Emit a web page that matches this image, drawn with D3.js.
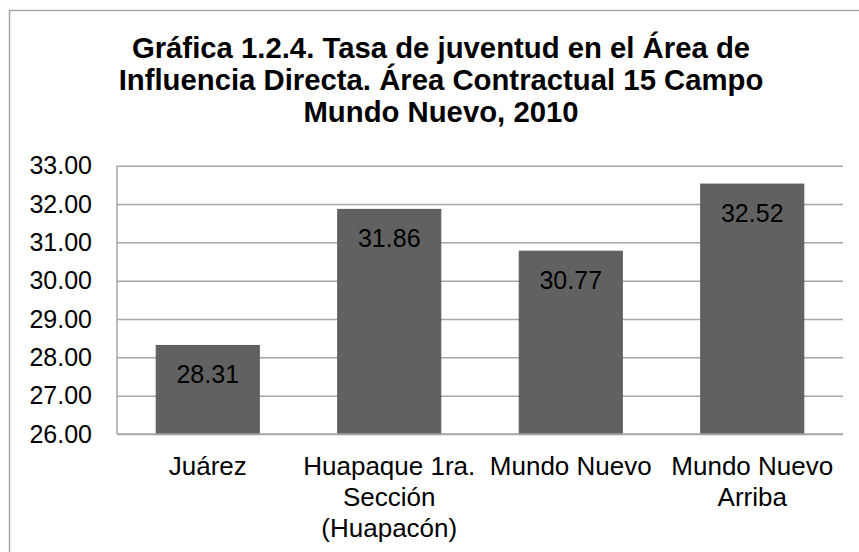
<!DOCTYPE html>
<html><head><meta charset="utf-8">
<script src="https://cdn.jsdelivr.net/npm/d3@7"></script>
<style>body{margin:0;background:#fff}svg{display:block}text{font-family:"Liberation Sans",Arial,sans-serif}</style>
</head><body><svg id="c" width="859" height="552"></svg>
<script>
const titleLines = ["Gráfica 1.2.4. Tasa de juventud en el Área de","Influencia Directa. Área Contractual 15 Campo","Mundo Nuevo, 2010"];
const categories = [["Juárez"],["Huapaque 1ra.","Sección","(Huapacón)"],["Mundo Nuevo"],["Mundo Nuevo","Arriba"]];
const values = [28.31, 31.86, 30.77, 32.52];
const yTicks = [26,27,28,29,30,31,32,33];

const svg = d3.select("#c");
const m = {left:117, right:843, top:165.7, bottom:434};
svg.append("rect").attr("x",9.5).attr("y",10.5).attr("width",900).attr("height",600).attr("fill","#fff").attr("stroke","#a6a6a6").attr("stroke-width",1.5);

const x = d3.scaleBand().domain(d3.range(values.length)).range([m.left,m.right]).paddingInner(0.432).paddingOuter(0.216);
const y = d3.scaleLinear().domain([26,33]).range([m.bottom,m.top]);

const grid = svg.append("g").attr("transform",`translate(${m.left},0)`)
  .call(d3.axisLeft(y).tickValues(yTicks).tickSize(-(m.right-m.left)).tickFormat(""));
grid.selectAll("line").attr("stroke","#a6a6a6").attr("stroke-width",1.5);
grid.select(".domain").remove();

svg.append("g").selectAll("rect").data(values).join("rect")
  .attr("x",(d,i)=>x(i)).attr("width",x.bandwidth())
  .attr("y",d=>y(d)).attr("height",d=>y(26)-y(d))
  .attr("fill","#616161").attr("stroke","#5a5a5a").attr("stroke-width",1);

svg.append("line").attr("x1",m.left).attr("x2",m.left).attr("y1",m.top).attr("y2",m.bottom).attr("stroke","#a6a6a6").attr("stroke-width",1.5);
svg.append("line").attr("x1",m.left).attr("x2",m.right).attr("y1",m.bottom).attr("y2",m.bottom).attr("stroke","#a6a6a6").attr("stroke-width",1.5);

const ax = svg.append("g").attr("transform",`translate(${m.left},0)`)
  .call(d3.axisLeft(y).tickValues(yTicks).tickSize(0).tickPadding(25).tickFormat(d3.format(".2f")));
ax.select(".domain").remove();
ax.selectAll("text").attr("font-size",25).attr("fill","#000").attr("dy","0.33em").attr("font-family","Liberation Sans, Arial, sans-serif");

svg.append("g").selectAll("text").data(values).join("text")
  .attr("x",(d,i)=>x(i)+x.bandwidth()/2).attr("y",d=>y(d)+37.5)
  .attr("text-anchor","middle").attr("font-size",25).attr("fill","#000")
  .text(d=>d.toFixed(2));

const cg = svg.append("g");
categories.forEach((lines,i)=>{
  const t = cg.append("text").attr("text-anchor","middle").attr("font-size",26).attr("fill","#000");
  lines.forEach((l,j)=>t.append("tspan").attr("x",x(i)+x.bandwidth()/2).attr("y",475+j*31).text(l));
});

const tt = svg.append("text").attr("text-anchor","middle").attr("font-size",29.3).attr("font-weight","bold").attr("fill","#000");
titleLines.forEach((l,j)=>tt.append("tspan").attr("x",441).attr("y",58.3+j*31.7).text(l));
</script></body></html>
